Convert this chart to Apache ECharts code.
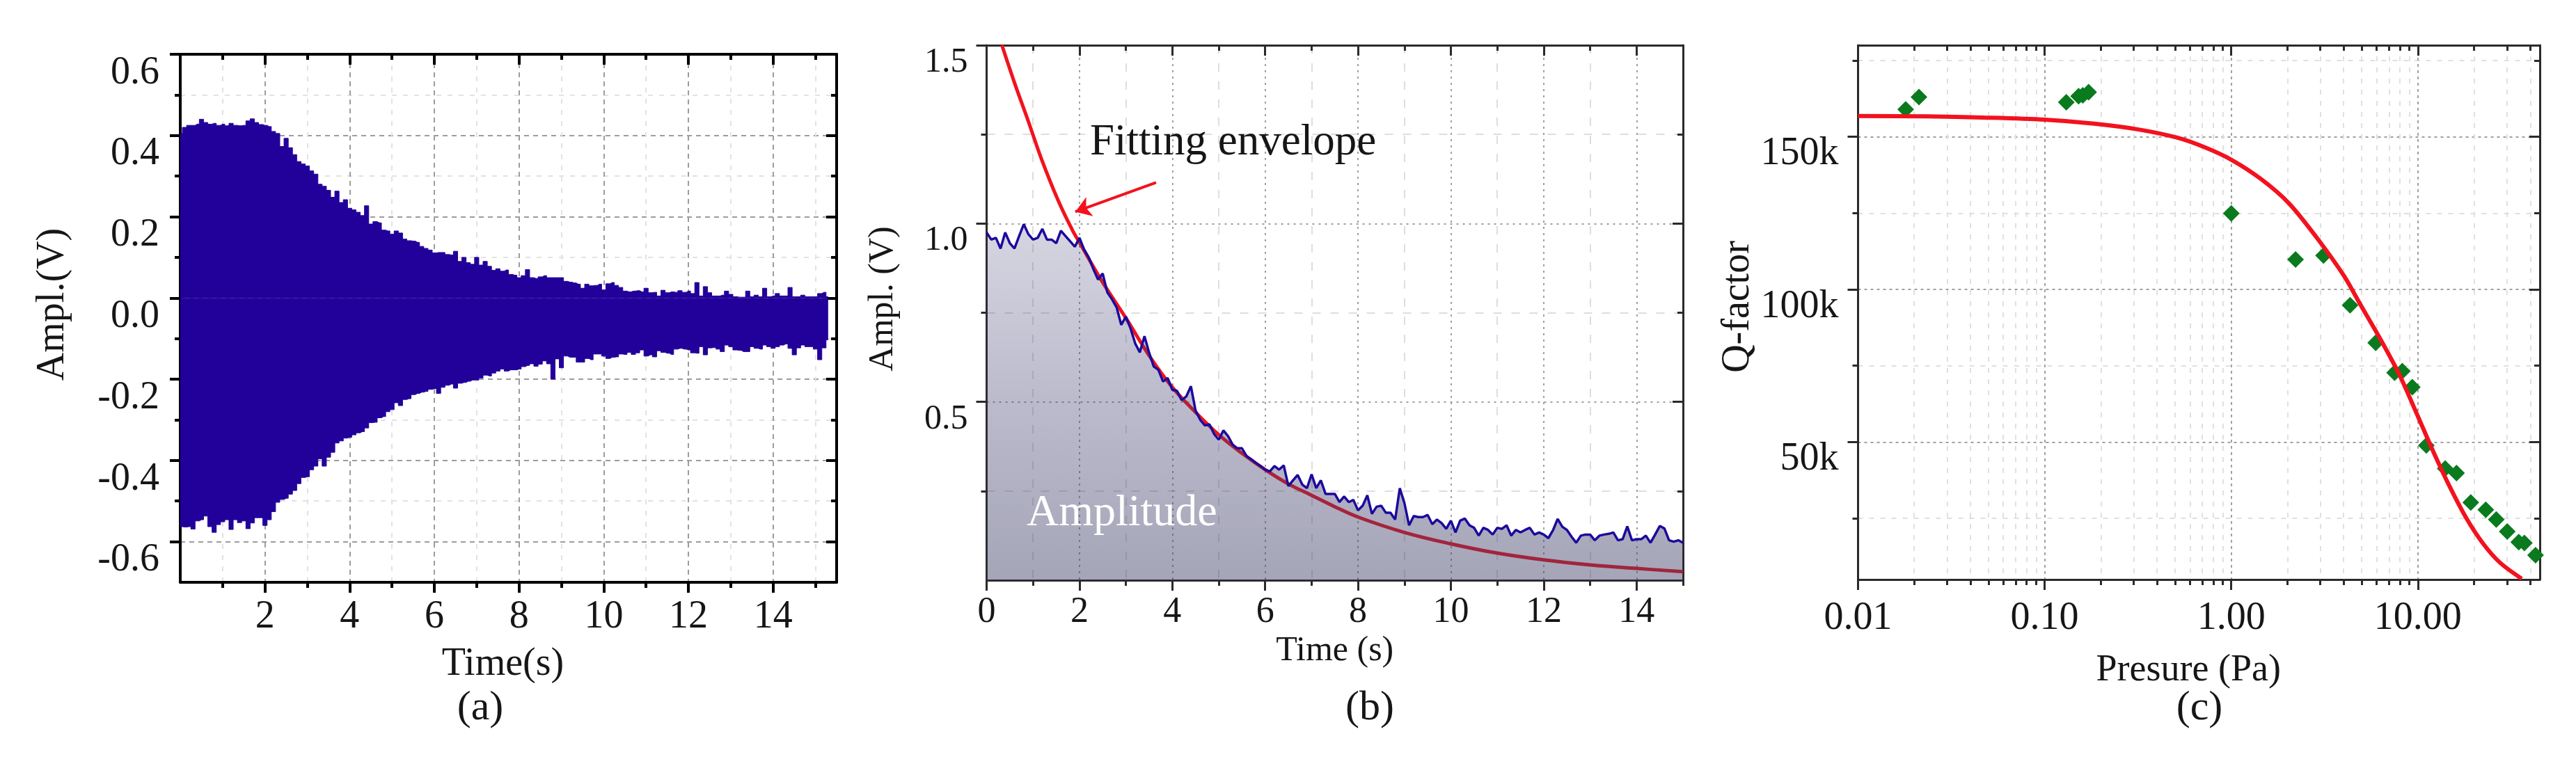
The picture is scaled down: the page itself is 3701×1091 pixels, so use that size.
<!DOCTYPE html>
<html><head><meta charset="utf-8">
<style>html,body{margin:0;padding:0;background:#fff}#c{width:3701px;height:1091px}</style>
<script src="https://cdn.jsdelivr.net/npm/echarts@6/dist/echarts.min.js"></script>
</head><body><div id="c"></div>
<script>
// ---------- panel (a): envelope of the ring-down signal, one value every 0.1 s from t = 0
const ringUpper = [
.405,.420,.425,.425,.428,.440,.432,.428,.430,.425,.428,.424,.430,.425,.424,.425,.436,.441,.432,.427,
.425,.422,.410,.405,.373,.393,.370,.353,.336,.330,.325,.313,.305,.280,.275,.265,.248,.263,.235,.242,
.221,.217,.211,.203,.227,.182,.188,.185,.167,.165,.157,.165,.160,.145,.141,.140,.137,.127,.122,.118,
.111,.112,.112,.107,.106,.115,.090,.100,.087,.083,.100,.081,.090,.078,.068,.072,.066,.069,.058,.056,
.050,.055,.070,.050,.048,.052,.055,.050,.050,.050,.050,.041,.039,.037,.034,.024,.034,.030,.031,.034,
.020,.035,.038,.031,.026,.017,.015,.017,.018,.015,.024,.013,.014,.005,.019,.013,.015,.014,.018,.014,
.017,.011,.038,.005,.028,.013,.005,.005,.007,.017,.009,.003,.002,.002,.017,.003,.007,.003,.024,.003,
.005,.011,.005,.005,.026,.003,.003,.007,.003,.003,.003,.011,.014,.003];
const ringLower = [
-.563,-.564,-.563,-.569,-.549,-.546,-.537,-.563,-.577,-.558,-.551,-.546,-.570,-.546,-.553,-.549,-.568,-.554,-.541,-.541,
-.560,-.546,-.526,-.503,-.496,-.493,-.483,-.474,-.457,-.442,-.440,-.423,-.414,-.396,-.414,-.392,-.380,-.357,-.352,-.345,
-.343,-.337,-.332,-.329,-.320,-.307,-.306,-.295,-.292,-.280,-.275,-.258,-.265,-.250,-.248,-.238,-.235,-.232,-.230,-.225,
-.223,-.235,-.220,-.215,-.212,-.222,-.210,-.208,-.205,-.202,-.202,-.197,-.190,-.192,-.185,-.180,-.175,-.180,-.177,-.177,
-.175,-.169,-.166,-.162,-.168,-.163,-.155,-.162,-.200,-.150,-.172,-.143,-.146,-.146,-.158,-.158,-.149,-.152,-.138,-.138,
-.143,-.149,-.146,-.145,-.138,-.139,-.134,-.139,-.135,-.128,-.143,-.140,-.145,-.130,-.134,-.136,-.139,-.126,-.124,-.126,
-.128,-.135,-.136,-.120,-.140,-.123,-.122,-.126,-.132,-.116,-.120,-.128,-.129,-.132,-.132,-.120,-.124,-.126,-.116,-.120,
-.124,-.120,-.116,-.113,-.124,-.140,-.123,-.116,-.120,-.120,-.126,-.152,-.123,-.103];
const ringTime = ringUpper.map((_, i) => i / 10);

// ---------- panel (b): measured amplitude, one value every 0.1 s, and the fitted envelope
const amplitude = [
.975,.955,.96,.93,.975,.945,.93,.965,.998,.97,
.955,.96,.985,.955,.955,.945,.98,.965,.95,.935,
.96,.927,.905,.872,.843,.86,.807,.788,.765,.716,
.739,.706,.664,.639,.684,.638,.599,.59,.557,.567,
.534,.531,.505,.515,.544,.476,.45,.434,.437,.41,
.394,.42,.404,.38,.37,.37,.348,.339,.329,.32,
.31,.305,.32,.31,.322,.264,.28,.295,.268,.258,
.297,.258,.28,.242,.242,.242,.219,.235,.219,.225,
.196,.209,.238,.186,.206,.209,.189,.189,.17,.258,
.216,.154,.18,.177,.177,.183,.157,.17,.16,.144,
.167,.134,.167,.173,.154,.147,.125,.147,.141,.128,
.147,.144,.154,.125,.141,.134,.141,.147,.128,.134,
.128,.118,.14,.172,.15,.141,.122,.105,.125,.128,
.128,.112,.125,.128,.13,.134,.112,.115,.151,.112,
.115,.115,.125,.105,.128,.152,.145,.112,.108,.112,.105];
const amplitudeTime = amplitude.map((_, i) => i / 10);
const fitTime = [0.33,0.6,0.9,1.19,1.55,1.85,2,2.5,3,3.5,4,4.5,5,5.5,6,6.5,7,7.5,8,9,10,11,12,13,14,15];
const fitValue = [1.5,1.395,1.286,1.178,1.062,.981,.947,.835,.735,.63,.541,.471,.408,.356,.31,.27,.238,.206,.177,.134,.102,.076,.057,.043,.033,.024];
const arrowFrom = [3.65, 1.115];
const arrowTo = [1.91, 1.033];

// ---------- panel (c): Q-factor against pressure
const qPressure = [.018,.0212,.1306,.152,.160,.172,1.0,2.21,3.12,4.33,5.94,7.5,8.25,9.33,11.1,14,16.1,19.2,23.1,26.3,30.1,34.7,37.2,42.7];
const qMeasured = [159000,163000,161300,163300,163600,164600,124900,109800,111100,94800,82500,72700,73200,68000,48900,41300,39800,30200,27800,24600,20700,17200,16900,12900];
const qFitPressure = [.01,.0236,.0468,.1,.184,.318,.514,.725,1,1.44,2.03,2.85,4.02,4.93,6.28,7.98,10,12,14.8,18.2,22.3,27.5,36];
const qFit = [156800,156700,156300,155600,154300,152400,149700,146500,142500,136200,128300,117200,104400,94900,83800,71900,58400,47300,35400,25000,16800,10500,5200];

// ---------- tick values
const aXMajor = [2,4,6,8,10,12,14], aXMinor = [1,3,5,7,9,11,13,15];
const aYMajor = [-.6,-.4,-.2,0,.2,.4,.6], aYMinor = [-.5,-.3,-.1,.1,.3,.5];
const bXMajor = [0,2,4,6,8,10,12,14], bXMinor = [1,3,5,7,9,11,13,15];
const bYMajor = [.5,1,1.5], bYMinor = [.25,.75,1.25];
const cXMajor = [.01,.1,1,10];
const cXMinor = [.02,.03,.04,.05,.06,.07,.08,.09,.2,.3,.4,.5,.6,.7,.8,.9,2,3,4,5,6,7,8,9,20,30,40];
const cYMajor = [50000,100000,150000], cYMinor = [25000,75000,125000,175000];

const FONT = '"Liberation Serif", serif', INK = '#161616';
const grids = [], xAxes = [], yAxes = [];

function addAxes(list, dim, gridIndex, c) {
  const low = dim === 'x' ? 'bottom' : 'left', high = dim === 'x' ? 'top' : 'right';
  const mainIndex = list.length;
  const base = {gridIndex, type: c.type || 'value', min: c.min, max: c.max, logBase: 10,
    axisPointer: {show: false}, minorTick: {show: false}, minorSplitLine: {show: false}};
  const line = {show: true, onZero: false, lineStyle: {color: c.lineColor, width: c.lineWidth}};
  const noLine = {show: false, onZero: false};
  // main axis: labels, major ticks, major grid
  list.push(Object.assign({}, base, {
    position: low, axisLine: line,
    axisTick: {show: true, inside: false, length: 15, customValues: c.major, lineStyle: {color: c.lineColor, width: c.lineWidth}},
    axisLabel: Object.assign({show: true, customValues: c.major, formatter: c.fmt, fontFamily: FONT, fontSize: c.fontSize,
      color: INK, margin: c.margin, showMinLabel: true, showMaxLabel: true, hideOverlap: false, verticalAlign: 'middle'}, c.label || {}),
    splitLine: {show: true, lineStyle: {color: c.majorColor, width: 2, type: c.majorDash}},
    name: c.name, nameLocation: 'middle', nameGap: c.nameGap,
    nameTextStyle: Object.assign({fontFamily: FONT, fontSize: c.nameSize, color: INK, verticalAlign: 'middle'}, c.nameStyle || {})
  }));
  // minor ticks and minor grid on the same side
  list.push(Object.assign({}, base, {
    position: low, axisLine: noLine, axisLabel: {show: false},
    axisTick: {show: true, inside: false, length: 8, customValues: c.minor, lineStyle: {color: c.lineColor, width: c.lineWidth}},
    splitLine: {show: true, lineStyle: {color: c.minorColor, width: 2, type: c.minorDash}}
  }));
  // mirrored frame side, major and minor ticks pointing inward
  list.push(Object.assign({}, base, {
    position: high, axisLine: line, axisLabel: {show: false}, splitLine: {show: false},
    axisTick: {show: true, inside: true, length: 15, customValues: c.major, lineStyle: {color: c.lineColor, width: c.lineWidth}}
  }));
  list.push(Object.assign({}, base, {
    position: high, axisLine: noLine, axisLabel: {show: false}, splitLine: {show: false},
    axisTick: {show: true, inside: true, length: 8, customValues: c.minor, lineStyle: {color: c.lineColor, width: c.lineWidth}}
  }));
  return mainIndex;
}

const oneDec = v => Number(v).toFixed(1);
const plain = v => String(v);

// (a)
grids.push({left: 259, top: 78, width: 943, height: 759});
const ax = addAxes(xAxes, 'x', 0, {min: 0, max: 15.5, major: aXMajor, minor: aXMinor, fmt: plain, fontSize: 56, margin: 50,
  lineColor: '#000', lineWidth: 4, majorColor: '#9c9c9c', minorColor: '#e2e2e2', majorDash: [7,6], minorDash: [7,9],
  name: 'Time(s)', nameGap: 118, nameSize: 56, nameStyle: {padding: [0,16,0,0]}});
const ay = addAxes(yAxes, 'y', 0, {min: -.7, max: .6, major: aYMajor, minor: aYMinor, fmt: oneDec, fontSize: 56, margin: 30,
  label: {verticalAlign: 'top', lineHeight: 54}, lineColor: '#000', lineWidth: 4, majorColor: '#9c9c9c', minorColor: '#e2e2e2', majorDash: [7,6], minorDash: [7,9],
  name: 'Ampl.(V)', nameGap: 183, nameSize: 56, nameStyle: {padding: [0,0,0,40]}});
// (b)
grids.push({left: 1417.5, top: 65, width: 1000.5, height: 769});
const bx = addAxes(xAxes, 'x', 1, {min: 0, max: 15, major: bXMajor, minor: bXMinor, fmt: plain, fontSize: 52, margin: 46,
  lineColor: '#2a2a2a', lineWidth: 3, majorColor: '#a0a0a0', minorColor: '#dedede', majorDash: [3,6], minorDash: [12,14],
  name: 'Time (s)', nameGap: 91, nameSize: 50});
const by = addAxes(yAxes, 'y', 1, {min: 0, max: 1.5, major: bYMajor, minor: bYMinor, fmt: oneDec, fontSize: 50, margin: 27,
  label: {verticalAlign: 'top', lineHeight: 50}, lineColor: '#2a2a2a', lineWidth: 3, majorColor: '#a0a0a0', minorColor: '#dedede', majorDash: [3,6], minorDash: [12,14],
  name: 'Ampl. (V)', nameGap: 149, nameSize: 50, nameStyle: {padding: [0,0,0,40]}});
// (c)
grids.push({left: 2669.5, top: 65, width: 979.5, height: 768});
const cx = addAxes(xAxes, 'x', 2, {type: 'log', min: .01, max: 45, major: cXMajor, minor: cXMinor, fmt: v => Number(v).toFixed(2),
  fontSize: 56, margin: 56, lineColor: '#2a2a2a', lineWidth: 3, majorColor: '#a0a0a0', minorColor: '#e0e0e0', majorDash: [4,5], minorDash: [7,9],
  name: 'Presure (Pa)', nameGap: 131, nameSize: 54, nameStyle: {padding: [0,30,0,0]}});
const cy = addAxes(yAxes, 'y', 2, {min: 4950, max: 180000, major: cYMajor, minor: cYMinor, fmt: v => (v / 1000) + 'k',
  fontSize: 56, margin: 28, label: {verticalAlign: 'top', lineHeight: 50}, lineColor: '#2a2a2a', lineWidth: 3, majorColor: '#a0a0a0', minorColor: '#e0e0e0', majorDash: [4,5], minorDash: [7,9],
  name: 'Q-factor', nameGap: 171, nameSize: 56, nameStyle: {padding: [0,0,0,16]}});

const zip = (a, b) => a.map((v, i) => [v, b[i]]);
const RING = '#22009a', RED = '#f2121e';
const ringSeries = (name, vals) => ({name, type: 'line', xAxisIndex: ax, yAxisIndex: ay, data: zip(ringTime, vals), step: 'middle',
  showSymbol: false, silent: true, lineStyle: {color: RING, width: 1}, areaStyle: {color: RING, opacity: 1}});

const option = {
  animation: false, backgroundColor: '#fff', grid: grids, xAxis: xAxes, yAxis: yAxes,
  series: [
    ringSeries('Upper envelope', ringUpper),
    ringSeries('Lower envelope', ringLower),
    {name: 'Fitting envelope', type: 'line', z: 2, xAxisIndex: bx, yAxisIndex: by, data: zip(fitTime, fitValue), smooth: .4, showSymbol: false, silent: true,
     lineStyle: {color: RED, width: 5}},
    {name: 'Amplitude', type: 'line', z: 3, xAxisIndex: bx, yAxisIndex: by, data: zip(amplitudeTime, amplitude), showSymbol: false, silent: true,
     lineStyle: {color: '#1c0a9c', width: 3.5},
     areaStyle: {color: {type: 'linear', x: 0, y: 0, x2: 0, y2: 1, colorStops: [
       {offset: 0, color: 'rgba(60,60,115,.30)'}, {offset: .5, color: 'rgba(60,60,110,.50)'}, {offset: 1, color: 'rgba(60,60,100,.66)'}]}},
     markLine: {silent: true, symbol: ['none','arrow'], symbolSize: 22, label: {show: false}, animation: false,
       lineStyle: {color: RED, width: 4, type: 'solid'},
       data: [[{coord: arrowFrom}, {coord: arrowTo}]]}},
    {name: 'Q fit', type: 'line', xAxisIndex: cx, yAxisIndex: cy, data: zip(qFitPressure, qFit), smooth: .3, showSymbol: false, silent: true,
     lineStyle: {color: RED, width: 6}},
    {name: 'Q measured', type: 'scatter', xAxisIndex: cx, yAxisIndex: cy, data: zip(qPressure, qMeasured), symbol: 'diamond', symbolSize: 24, silent: true,
     itemStyle: {color: '#0a7a1e', opacity: 1}}
  ],
  graphic: [
    {type: 'text', x: 690, y: 1018, style: {text: '(a)', font: '60px ' + FONT, fill: INK, textAlign: 'center', textVerticalAlign: 'middle'}},
    {type: 'text', x: 1968, y: 1018, style: {text: '(b)', font: '60px ' + FONT, fill: INK, textAlign: 'center', textVerticalAlign: 'middle'}},
    {type: 'text', x: 3160, y: 1018, style: {text: '(c)', font: '60px ' + FONT, fill: INK, textAlign: 'center', textVerticalAlign: 'middle'}},
    {type: 'text', x: 1566, y: 205, z: 100, style: {text: 'Fitting envelope', font: '63px ' + FONT, fill: INK, textAlign: 'left', textVerticalAlign: 'middle'}},
    {type: 'text', x: 1475, y: 738, z: 100, style: {text: 'Amplitude', font: '64px ' + FONT, fill: '#fff', textAlign: 'left', textVerticalAlign: 'middle'}}
  ]
};
const chart = echarts.init(document.getElementById('c'), null, {renderer: 'canvas'});
chart.setOption(option);
</script></body></html>
